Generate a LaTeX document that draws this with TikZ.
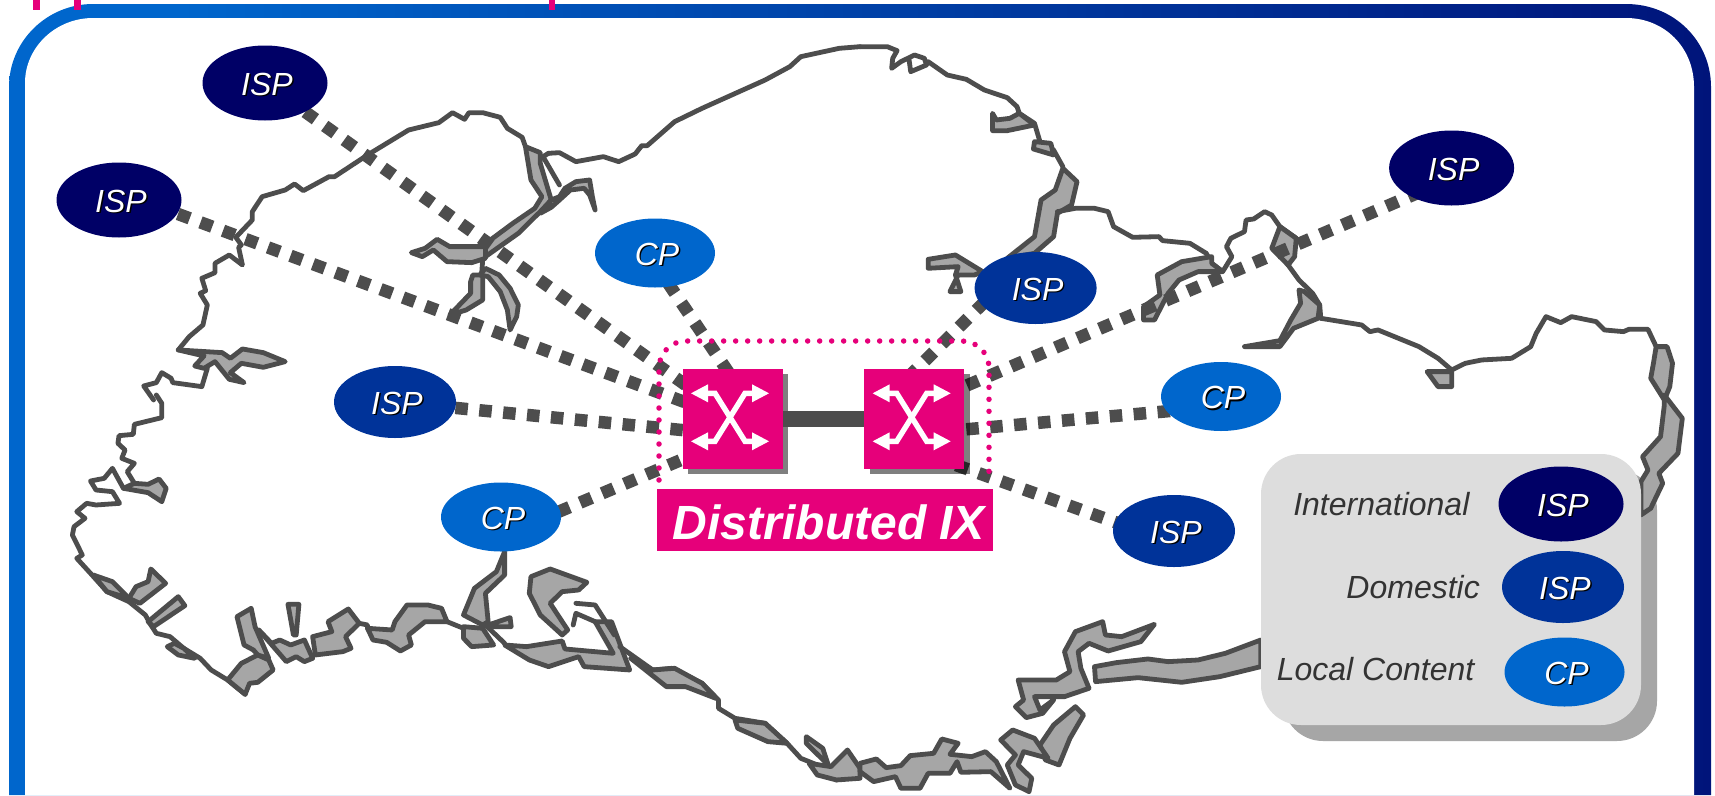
\documentclass[tikz,border=0pt]{standalone}
\usepackage{fontspec}
\usetikzlibrary{shapes.geometric}
\setmainfont{Liberation Sans}
\definecolor{pinkc}{HTML}{E6007A}
\definecolor{coastc}{HTML}{4D4D4D}
\definecolor{greyc}{HTML}{A6A6A6}
\definecolor{fa}{HTML}{0066CC}
\definecolor{fb}{HTML}{000066}
\definecolor{intc}{HTML}{000066}
\definecolor{domc}{HTML}{003399}
\definecolor{cpc}{HTML}{0066CC}
\definecolor{legc}{HTML}{DDDDDD}
\definecolor{legt}{HTML}{333333}
\pgfdeclarehorizontalshading{frameshade}{100bp}{color(0bp)=(fa); color(30bp)=(fa); color(86bp)=(fb); color(100bp)=(fb)}
\pgfdeclarelayer{bg}
\pgfdeclarelayer{lk}
\pgfsetlayers{bg,lk,main}
\newcommand{\shd}[1]{\kern4pt\raisebox{-2pt}[\height][\depth]{\rlap{\kern1.4pt\raisebox{-1.4pt}{\textcolor{black}{#1}}}\textcolor{white}{#1}}}
\tikzset{
  gr/.style={draw=coastc,fill=greyc,line width=4.8pt,line join=round,line cap=round},
  cl/.style={draw=coastc,line width=4.8pt,line join=round,line cap=round},
  zone/.style={x=0.5485pt,y=-0.3333pt},
  zoner/.style={x=0.5453pt,y=-0.3333pt},
  blob/.style={ellipse,inner sep=0pt,font=\itshape\fontsize{32}{36}\selectfont},
  intl/.style={blob,fill=intc,minimum width=125pt,minimum height=75pt},
  dom/.style={blob,fill=domc,minimum width=122pt,minimum height=72pt},
  cpn/.style={blob,fill=cpc,minimum width=120pt,minimum height=69pt},
  swbox/.style={rectangle,fill=pinkc,minimum width=100pt,minimum height=100pt,inner sep=0pt},
  dashlink/.style={draw=coastc,line width=12.5pt,dash pattern=on 12.5pt off 11.5pt},
  thicklink/.style={draw=coastc,line width=16pt},
  dotbox/.style={draw=pinkc,line width=5.5pt,line cap=round,dash pattern=on 0pt off 12pt,rounded corners=27pt},
  legtext/.style={anchor=east,inner sep=0pt,text=legt,font=\itshape\fontsize{32}{36}\selectfont},
  xarrows/.pic={
    \draw[white,line width=5.4pt,line join=miter] (-23,-24)--(-15,-24)--(15,24)--(23,24);
    \draw[white,line width=5.4pt,line join=miter] (23,-24)--(15,-24)--(-15,24)--(-23,24);
    \fill[white] (-39,-24)--(-22,-33)--(-22,-15)--cycle;
    \fill[white] (39,-24)--(22,-33)--(22,-15)--cycle;
    \fill[white] (-39,24)--(-22,15)--(-22,33)--cycle;
    \fill[white] (39,24)--(22,15)--(22,33)--cycle;
  }
}
\begin{document}
\begin{tikzpicture}[x=1pt,y=-1pt]
\useasboundingbox (0,0) rectangle (1715,795);
\begin{pgfonlayer}{bg}
% frame
\shade[shading=frameshade] (9,795)--(9,87) .. controls (9,41) and (47,4) .. (93,4)--(1626,4) .. controls (1674,4) and (1711,41) .. (1711,87)--(1711,795)--cycle;
\fill[white] (25,795)--(25,83) .. controls (25,47) and (56,18) .. (93,18)--(1626,18) .. controls (1664,18) and (1694,47) .. (1694,87)--(1694,795)--cycle;
\fill[pinkc] (33,0) rectangle (40,9.5);
\fill[pinkc] (74,0) rectangle (81,9.5);
\fill[pinkc] (549,0) rectangle (555,9.5);
% legend shadow
\fill[greyc,rounded corners=40pt] (1283,470) rectangle (1657,741);
% NW zone
\begin{scope}[zone]
\draw[gr] (325,1050)--(405,1058)--(420,1075)--(442,1047)--(480,1058)--(520,1085)--(480,1102)--(440,1090)--(420,1118)--(445,1148)--(418,1138)--(392,1085)--(372,1105)--(355,1098)--(372,1068)--cycle;
\draw[cl] (280,1200)--(262,1158)--(285,1148)--(295,1118)--(312,1135)--(315,1148)--(368,1160)--(378,1105);
\draw[cl] (325,1050)--(345,1010)--(370,975)--(378,915)--(365,880)--(375,872)--(368,835)--(392,818)--(392,790)--(418,765)--(442,795)--(435,742)--(440,735)--(430,712)--(460,660)--(460,635)--(478,590)--(520,570)--(537,552)--(553,572)--(600,530)--(610,530)--(670,465)--(745,390)--(800,368)--(825,338)--(847,358)--(855,338)--(880,338)--(912,352)--(925,385)--(952,412)--(958,440);
\draw[gr] (958,440)--(985,458)--(985,490)--(1005,600)--(985,635)--(945,700)--(885,770)--(885,740)--(890,725)--(935,670)--(975,625)--(988,590)--(968,540)--cycle;
\draw[gr] (750,758)--(775,745)--(797,718)--(820,740)--(885,740)--(885,775)--(860,788)--(815,785)--(790,750)--(770,770)--cycle;
\draw[cl] (880,780)--(878,825);
\draw[gr] (862,825)--(880,825)--(880,900)--(850,930)--(820,945)--(858,880)--(858,845)--cycle;
\draw[gr] (875,825)--(885,805)--(910,825)--(930,865)--(945,915)--(942,950)--(930,990)--(925,930)--(912,875)--(890,830)--cycle;
\draw[cl] (1000,460)--(1020,458)--(1050,485)--(1100,470)--(1128,485)--(1158,462)--(1170,437)--(1180,437)--(1230,365)--(1280,325)--(1395,240)--(1440,200)--(1460,170)--(1530,145)--(1568,140);
\draw[cl] (1000,460)--(990,470)--(1020,555);
\draw[gr] (1020,590)--(1030,565)--(1050,545)--(1075,540)--(1080,590)--(1085,630)--(1075,585)--(1065,565)--(1040,570)--(1020,600)--(1005,622)--(985,640)--(1005,600)--cycle;
\end{scope}
% NE zone
\begin{scope}[shift={(860,0)},zoner]
\draw[cl] (0,140)--(50,140)--(68,152)--(60,175)--(58,205)--(75,185)--(100,165)--(118,175)--(122,195)--(93,215)--(90,180);
\draw[cl] (125,185)--(160,225)--(195,238)--(228,270)--(270,293)--(288,320)--(292,340)--(320,370)--(330,425)--(355,450)--(372,500);
\draw[gr] (243,340)--(250,360)--(275,355)--(292,340)--(320,375)--(270,392)--(243,392)--cycle;
\draw[gr] (320,425)--(350,430)--(355,465)--(318,447)--cycle;
\draw[gr] (372,505)--(398,545)--(388,615)--(362,640)--(355,710)--(320,760)--(270,775)--(320,710)--(332,600)--(358,570)--cycle;
\draw[gr] (125,778)--(175,765)--(225,815)--(210,825)--(180,825)--(165,875)--(185,875)--(175,825)--(180,800)--(125,805)--cycle;
\draw[cl] (362,635)--(395,625)--(430,625)--(455,635)--(465,680)--(500,712)--(548,710)--(555,722)--(605,730)--(635,760)--(645,790)--(665,815)--(682,770)--(672,740)--(680,715)--(705,695)--(708,660)--(722,657)--(742,635)--(755,645)--(770,680)--(800,715)--(795,770)--(785,795)--(805,840)--(830,880)--(843,915)--(845,955);
\draw[gr] (645,770)--(590,785)--(545,825)--(550,885)--(520,920)--(520,960)--(540,960)--(565,880)--(585,840)--(620,815)--(665,815)--(645,790)--cycle;
\draw[gr] (770,680)--(800,715)--(797,770)--(785,795)--(755,745)--cycle;
\draw[gr] (815,875)--(843,915)--(840,955)--(795,985)--(770,1040)--(705,1040)--(770,1022)--(790,960)--(808,910)--(805,870)--cycle;
\draw[cl] (845,955)--(920,975)--(935,995)--(950,990)--(1025,1040)--(1060,1075)--(1085,1110)--(1110,1090)--(1140,1080)--(1195,1075)--(1230,1040)--(1240,1000)--(1258,950)--(1285,968)--(1305,950)--(1350,965)--(1365,990)--(1400,995)--(1410,988)--(1445,988)--(1460,1040);
\draw[gr] (1040,1115)--(1085,1115)--(1085,1160)--(1060,1160)--cycle;
\draw[gr] (1460,1040)--(1480,1040)--(1490,1090)--(1485,1160)--(1475,1200)--(1450,1135)--(1455,1090)--cycle;
\end{scope}
% SW zone
\begin{scope}[shift={(0,395)},zone]
\draw[cl] (285,0)--(295,25)--(295,68)--(245,88)--(243,118)--(217,122)--(215,145)--(228,165)--(222,190)--(245,205)--(232,230)--(245,265);
\draw[gr] (225,280)--(270,293)--(295,320)--(303,280)--(290,252)--(270,268)--(245,265)--cycle;
\draw[cl] (225,280)--(205,220)--(190,250)--(165,258)--(175,285)--(205,290)--(218,325)--(175,330)--(158,325)--(140,350)--(155,370)--(135,395)--(132,420)--(150,480)--(140,490)--(165,535)--(195,590)--(235,620)--(265,660)--(275,690)--(285,715)--(310,725)--(335,760)--(365,790)--(385,825)--(415,855)--(447,898);
\draw[gr] (170,540)--(205,560)--(235,610)--(195,590)--cycle;
\draw[gr] (275,522)--(302,565)--(255,625)--(235,610)--(248,575)--(270,560)--cycle;
\draw[gr] (325,605)--(337,632)--(280,695)--(270,680)--cycle;
\draw[gr] (318,745)--(335,760)--(355,790)--(325,780)--(305,755)--cycle;
\draw[gr] (447,898)--(415,855)--(440,805)--(470,780)--(490,795)--(498,825)--(470,862)--(455,865)--cycle;
\draw[gr] (432,665)--(458,640)--(465,695)--(490,790)--(470,780)--(462,765)--(445,750)--cycle;
\draw[gr] (525,628)--(545,628)--(540,720)--(535,720)--cycle;
\draw[gr] (472,705)--(495,745)--(510,735)--(530,750)--(555,735)--(570,790)--(555,800)--(540,785)--(522,800)--cycle;
\draw[gr] (570,725)--(605,710)--(598,680)--(635,642)--(655,685)--(630,725)--(640,760)--(625,770)--(575,780)--cycle;
\draw[gr] (670,700)--(680,735)--(705,742)--(730,768)--(750,750)--(745,720)--(775,680)--(815,680)--(805,640)--(780,630)--(742,630)--(720,680)--(715,705)--cycle;
\draw[cl] (655,685)--(670,690)--(670,700);
\draw[cl] (815,680)--(845,700)--(870,700);
\draw[gr] (920,470)--(920,540)--(885,595)--(890,680)--(880,690)--(845,660)--(865,580)--(905,530)--cycle;
\draw[gr] (845,695)--(880,700)--(900,750)--(860,755)--(845,730)--cycle;
\draw[gr] (890,690)--(930,668)--(932,695)--(900,695)--cycle;
\draw[cl] (885,690)--(920,745);
\draw[gr] (968,545)--(1003,522)--(1070,562)--(1055,585)--(1025,590)--(1003,625)--(1035,705)--(1025,720)--(985,660)--(965,595)--cycle;
\draw[gr] (920,750)--(960,755)--(1025,738)--(1030,762)--(1118,775)--(1085,680)--(1115,680)--(1148,825)--(1065,815)--(1055,785)--(1000,815)--(965,795)--cycle;
\draw[cl] (1050,625)--(1085,630)--(1120,720);
\draw[cl] (1045,690)--(1050,655)--(1085,680);
\draw[cl] (1130,755)--(1190,825)--(1225,820)--(1280,865)--(1310,915)--(1310,940)--(1340,970)--(1395,985)--(1435,1045)--(1460,1090)--(1490,1110)--(1525,1155);
\draw[gr] (1150,790)--(1190,825)--(1230,820)--(1280,865)--(1305,910)--(1250,875)--(1215,875)--cycle;
\draw[gr] (1340,975)--(1395,985)--(1435,1045)--(1400,1040)--(1345,1000)--cycle;
\draw[gr] (1470,1025)--(1500,1060)--(1510,1110)--(1470,1045)--cycle;
\draw[gr] (1475,1105)--(1515,1115)--(1545,1065)--(1568,1120)--(1568,1150)--(1525,1155)--(1490,1140)--cycle;
\end{scope}
% SE zone
\begin{scope}[shift={(860,395)},zoner]
\draw[gr] (1475,0)--(1508,70)--(1500,175)--(1465,235)--(1472,265)--(1450,340)--(1432,360)--(1432,260)--(1445,225)--(1435,185)--(1468,125)--(1475,30)--cycle;
\draw[gr] (735,735)--(670,775)--(620,795)--(565,800)--(528,792)--(470,803)--(430,815)--(432,860)--(510,848)--(590,862)--(660,845)--(735,815)--cycle;
\draw[gr] (290,855)--(360,855)--(385,830)--(375,770)--(395,710)--(445,680)--(450,720)--(480,725)--(540,688)--(515,740)--(455,768)--(420,745)--(400,770)--(405,820)--(420,880)--(375,905)--(320,905)--(330,945)--(355,915)--(335,955)--(305,968)--(285,935)--(300,915)--cycle;
\draw[gr] (395,935)--(410,960)--(385,1030)--(365,1110)--(340,1095)--(330,1050)--(355,990)--cycle;
\draw[gr] (258,1035)--(280,1005)--(320,1030)--(345,1090)--(300,1070)--(290,1110)--(315,1150)--(310,1190)--(285,1170)--(270,1110)--(285,1080)--(270,1055)--cycle;
\draw[gr] (0,1105)--(30,1092)--(48,1118)--(75,1112)--(92,1082)--(135,1075)--(150,1032)--(180,1045)--(165,1078)--(205,1085)--(230,1070)--(250,1100)--(275,1180)--(240,1130)--(185,1132)--(178,1100)--(165,1135)--(125,1135)--(110,1180)--(75,1180)--(65,1145)--(25,1160)--(0,1130)--cycle;
\end{scope}
\end{pgfonlayer}
% switches
\node[swbox] (sw1) at (733,419) {};
\node[swbox] (sw2) at (914,419) {};
\pic at (730,417.3) {xarrows};
\pic at (911.7,417.3) {xarrows};
% connection ends, hidden under the switches or starting at the ellipses
\coordinate (t1) at (733,435);
\coordinate (t2) at (760,419);
\coordinate (t3) at (880,405);
\coordinate (t4) at (914,408);
\coordinate (t5) at (914,434);
\coordinate (t6) at (914,450);
\coordinate (t7) at (733,438);
\coordinate (t8) at (733,420);
\coordinate (s2) at (178,214);
\coordinate (s3) at (668,283);
\coordinate (s5) at (558,512);
\coordinate (s6) at (985,301.5);
\coordinate (s7) at (1420,192);
\coordinate (s8) at (1170,411);
\coordinate (s9) at (1126,526);
% map nodes
\node[intl] (ispa) at (265,83) {\shd{ISP}};
\node[intl] (ispb) at (119,200) {\shd{ISP}};
\node[cpn] (cpa) at (655,253) {\shd{CP}};
\node[dom] (ispc) at (395,402) {\shd{ISP}};
\node[cpn] (cpb) at (501,517) {\shd{CP}};
\node[intl] (ispd) at (1451.6,168) {\shd{ISP}};
\node[dom] (ispe) at (1035.6,288) {\shd{ISP}};
\node[cpn] (cpc) at (1221,396.5) {\shd{CP}};
\node[dom] (ispf) at (1174,531) {\shd{ISP}};
% connectors
\begin{pgfonlayer}{lk}
\draw[dashlink] (ispa) -- (sw1.center);
\draw[dashlink] (s2) -- (t8);
\draw[dashlink] (ispc) -- (t1);
\draw[dashlink] (s5) -- (t7);
\draw[dashlink] (s3) -- (t2);
\draw[dashlink] (s6) -- (t3);
\draw[dashlink] (s7) -- (t4);
\draw[dashlink] (s8) -- (t5);
\draw[dashlink] (s9) -- (t6);
\fill[black,opacity=.5] (688,374) rectangle (788,474);
\fill[black,opacity=.5] (870,374) rectangle (970,474);
\draw[thicklink] (sw1) -- (sw2);
\end{pgfonlayer}
% dotted IX boundary
\draw[dotbox] (659,480)--(659,341)--(989,341)--(989,480);
% label
\node[rectangle,fill=pinkc,minimum width=336pt,minimum height=62pt,inner sep=0pt,text=white,font=\bfseries\itshape\fontsize{48}{54}\selectfont] (ix) at (825,520) {\kern8pt\raisebox{-2pt}[\height][\depth]{Distributed IX}};
% legend
\node[rectangle,fill=legc,rounded corners=40pt,minimum width=380pt,minimum height=271pt,inner sep=0pt] (lg) at (1451,589.5) {};
\node[intl] (lgi) at (1561,504) {\shd{ISP}};
\node[dom] (lgd) at (1563,587) {\shd{ISP}};
\node[cpn] (lgc) at (1564.5,672) {\shd{CP}};
\node[legtext] (li) at (1469.6,504) {International};
\node[legtext] (ld) at (1480,587) {Domestic};
\node[legtext] (ll) at (1474.5,669) {Local Content};
\end{tikzpicture}
\end{document}
